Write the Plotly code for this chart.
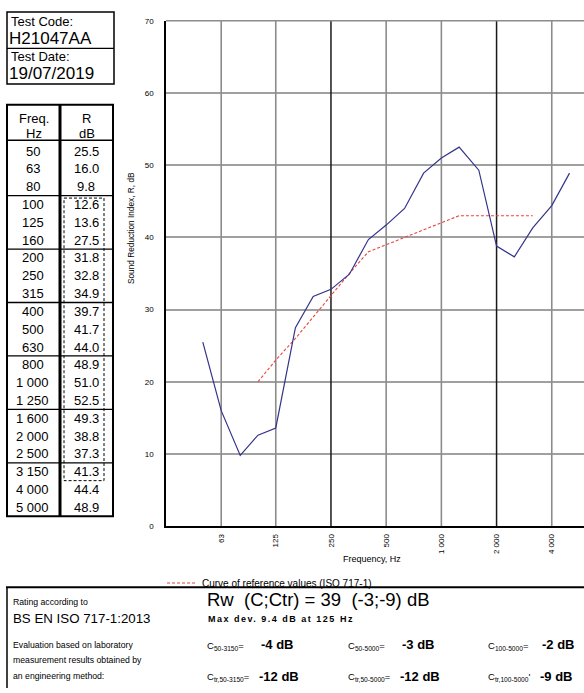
import math
import plotly.graph_objects as go

# ---------------- data ----------------
freq_hz = [50, 63, 80, 100, 125, 160, 200, 250, 315, 400, 500, 630,
           800, 1000, 1250, 1600, 2000, 2500, 3150, 4000, 5000]
freq_labels = ["50", "63", "80", "100", "125", "160", "200", "250", "315",
               "400", "500", "630", "800", "1 000", "1 250", "1 600",
               "2 000", "2 500", "3 150", "4 000", "5 000"]
r_db = [25.5, 16.0, 9.8, 12.6, 13.6, 27.5, 31.8, 32.8, 34.9, 39.7, 41.7,
        44.0, 48.9, 51.0, 52.5, 49.3, 38.8, 37.3, 41.3, 44.4, 48.9]
ref_freq_hz = [100, 125, 160, 200, 250, 315, 400, 500, 630, 800, 1000,
               1250, 1600, 2000, 2500, 3150]
ref_db = [20, 23, 26, 29, 32, 35, 38, 39, 40, 41, 42, 43, 43, 43, 43, 43]
x_tick_vals = [63, 125, 250, 500, 1000, 2000, 4000]
x_tick_text = ["63", "125", "250", "500", "1 000", "2 000", "4 000"]
major_grid_hz = [250, 2000]
y_tick_vals = [0, 10, 20, 30, 40, 50, 60, 70]

test_code = "H21047AA"
test_date = "19/07/2019"
c_terms = [("C<sub>50-3150</sub>=", "-4 dB"), ("C<sub>50-5000</sub>=", "-3 dB"),
           ("C<sub>100-5000</sub>=", "-2 dB")]
ctr_terms = [("C<sub>tr,50-3150</sub>=", "-12 dB"), ("C<sub>tr,50-5000</sub>=", "-12 dB"),
             ("C<sub>tr,100-5000</sub>'", "-9 dB")]

# ---------------- layout helpers ----------------
W, H = 584, 693
FONT = "Liberation Sans, Arial, sans-serif"
GRID = "#a0a0a0"
VGRID = "#8c8c8c"


def px(x):
    return x / W


def py(y):
    return 1 - y / H


shapes = []
annotations = []


def line(x0, y0, x1, y1, width=1.0, color="black", dash="solid"):
    shapes.append(dict(type="line", xref="paper", yref="paper",
                       x0=px(x0), y0=py(y0), x1=px(x1), y1=py(y1),
                       line=dict(color=color, width=width, dash=dash)))


def rect(x0, y0, x1, y1, width=1.0, dash="solid"):
    shapes.append(dict(type="rect", xref="paper", yref="paper",
                       x0=px(x0), y0=py(y0), x1=px(x1), y1=py(y1),
                       line=dict(color="black", width=width, dash=dash)))


def text(x, y, s, size, anchor="left", bold=False, color="black", angle=0):
    annotations.append(dict(xref="paper", yref="paper", x=px(x), y=py(y),
                            text=("<b>%s</b>" % s) if bold else s,
                            showarrow=False, xanchor=anchor, yanchor="middle",
                            textangle=angle, borderpad=0,
                            font=dict(family=FONT, size=size, color=color)))


# ---------------- header boxes ----------------
rect(7, 8, 114, 81, width=1.5)
line(7, 45, 114, 45, width=1.2)
text(10, 18, "Test Code:", 13)
text(8, 35, test_code, 17)
text(10, 53, "Test Date:", 13)
text(8, 70, test_date, 17)

# ---------------- data table ----------------
t_left, t_mid, t_right = 7, 60, 113
t_top, t_head, t_bottom = 102, 138, 519
row0, row_step = 149, 18.05
rect(t_left, t_top, t_right, t_bottom, width=2)
line(t_mid, t_top, t_mid, t_bottom, width=3)
line(t_left, t_head, t_right, t_head, width=1.5)
text((t_left + t_mid) / 2, 116, "Freq.", 13, anchor="center")
text((t_left + t_mid) / 2, 131, "Hz", 13, anchor="center")
text((t_mid + t_right) / 2, 116, "R", 13, anchor="center")
text((t_mid + t_right) / 2, 131, "dB", 13, anchor="center")
for i, (fl, rv) in enumerate(zip(freq_labels, r_db)):
    yy = row0 + row_step * i
    text((t_left + t_mid) / 2 - 1, yy, fl, 13, anchor="center")
    text((t_mid + t_right) / 2 - 0.5, yy, "%.1f" % rv, 13, anchor="center")
for i in [2, 5, 8, 11, 14, 17]:
    ys = row0 + row_step * (i + 0.5)
    line(t_left, ys, t_right, ys, width=1.3)
# dashed frame round the rated range (100 - 3150 Hz)
i_first = freq_hz.index(ref_freq_hz[0])
i_last = freq_hz.index(ref_freq_hz[-1])
rect(64, row0 + row_step * (i_first - 0.5) + 2.5, 104,
     row0 + row_step * (i_last + 0.5), width=1, dash="3px,2px")

# ---------------- chart ----------------
x_left_px, y_top_px, y_bot_px = 166, 17, 529
px_per_decade = 55.2 / math.log10(2)
x_lo = math.log10(31.5)
x_hi = x_lo + (W - x_left_px) / px_per_decade
y_lo, y_hi = 0, 70

fig = go.Figure()

# vertical octave grid lines (ordinary ones gray, emphasised ones dark),
# drawn as line traces on the log axis, beneath the data
minor_hz = [f for f in x_tick_vals if f not in major_grid_hz]
gx, gy = [], []
for f in minor_hz:
    gx += [f, f, None]
    gy += [y_lo, y_hi, None]
fig.add_trace(go.Scatter(x=gx, y=gy, mode="lines", showlegend=False,
                         hoverinfo="skip", line=dict(color=VGRID, width=1.6)))
mx, my = [], []
for f in major_grid_hz:
    mx += [f, f, None]
    my += [y_lo, y_hi, None]
fig.add_trace(go.Scatter(x=mx, y=my, mode="lines", showlegend=False,
                         hoverinfo="skip", line=dict(color="#1a1a1a", width=1.5)))

fig.add_trace(go.Scatter(x=ref_freq_hz, y=ref_db, mode="lines",
                         name="Curve of reference values (ISO 717-1)",
                         line=dict(color="#e8453c", width=1.1, dash="3px,2px"),
                         showlegend=True))
fig.add_trace(go.Scatter(x=freq_hz, y=r_db, mode="lines", name="R",
                         line=dict(color="#34348c", width=1.2),
                         showlegend=False))

# gray top frame line of the plotting area
line(x_left_px, y_top_px, W, y_top_px, width=1.6, color="#8c8c8c")

fig.update_layout(
    width=W, height=H,
    margin=dict(l=0, r=0, t=0, b=0),
    paper_bgcolor="white", plot_bgcolor="white",
    font=dict(family=FONT, color="black"),
    xaxis=dict(type="log", range=[x_lo, x_hi], domain=[px(x_left_px), 1.0],
               tickvals=x_tick_vals, ticktext=x_tick_text, tickangle=-90,
               tickfont=dict(size=8), ticks="", ticklabelstandoff=3,
               showgrid=False,
               showline=True, linecolor="black", linewidth=1.5,
               zeroline=False),
    yaxis=dict(range=[y_lo, y_hi], domain=[py(y_bot_px), py(y_top_px)],
               tickvals=y_tick_vals,
               tickfont=dict(size=8), ticks="", ticklabelstandoff=9,
               showgrid=True, gridcolor=GRID, gridwidth=1.6,
               showline=True, linecolor="black", linewidth=1.5,
               zeroline=False),
    showlegend=True,
    legend=dict(x=px(162), y=py(572), xanchor="left", yanchor="top",
                font=dict(size=10, family=FONT), bgcolor="rgba(0,0,0,0)",
                itemwidth=30, borderwidth=0),
)

# axis titles
text(131, 227, "Sound Reduction Index, R, dB", 8.3, anchor="center", angle=-90)
text(372, 562, "Frequency, Hz", 9, anchor="center")

# ---------------- rating box ----------------
line(6, 591, W, 591, width=2)
line(7, 591, 7, H, width=1.5)
text(12, 606, "Rating according to", 8.7)
text(12, 623, "BS EN ISO 717-1:2013", 13.3)
text(206, 603, "Rw  (C;Ctr) = 39  (-3;-9) dB", 18.5)
annotations.append(dict(xref="paper", yref="paper", x=px(207), y=py(623),
                        text='<span style="letter-spacing:1.5px"><b>Max dev. 9.4 dB at 125 Hz</b></span>',
                        showarrow=False, xanchor="left", yanchor="middle",
                        borderpad=0, font=dict(family=FONT, size=9)))
text(12, 649, "Evaluation based on laboratory", 8.7)
text(12, 665, "measurement results obtained by", 8.7)
text(12, 681, "an engineering method:", 8.7)
col_x = [206, 347, 487]
for (lab, val), cx in zip(c_terms, col_x):
    text(cx, 650, lab, 9.5)
    text(cx + 54, 649, val, 13, bold=True)
for (lab, val), cx in zip(ctr_terms, col_x):
    text(cx, 682, lab, 9.5)
    text(cx + 52, 681, val, 13, bold=True)

fig.update_layout(shapes=shapes, annotations=annotations)
fig.write_html("out.html", config={"displayModeBar": False},
               post_script="document.body.style.margin='0px';")
